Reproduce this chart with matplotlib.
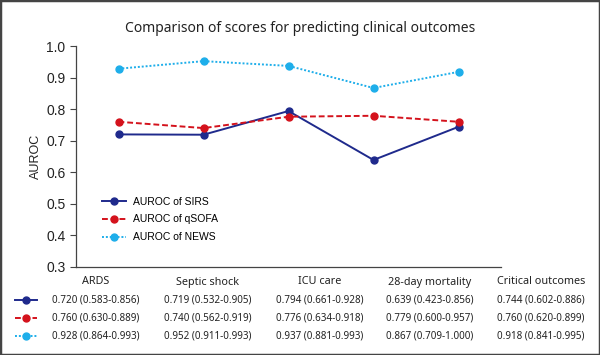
import matplotlib
matplotlib.use("Agg")
import matplotlib.pyplot as plt
from matplotlib.lines import Line2D
from matplotlib.patches import Rectangle

# outcomes and scores
outcomes = ["ARDS", "Septic shock", "ICU care", "28-day mortality", "Critical outcomes"]
sirs = [0.720, 0.719, 0.794, 0.639, 0.744]
qsofa = [0.760, 0.740, 0.776, 0.779, 0.760]
news = [0.928, 0.952, 0.937, 0.867, 0.918]
sirs_ci = ["0.583-0.856", "0.532-0.905", "0.661-0.928", "0.423-0.856", "0.602-0.886"]
qsofa_ci = ["0.630-0.889", "0.562-0.919", "0.634-0.918", "0.600-0.957", "0.620-0.899"]
news_ci = ["0.864-0.993", "0.911-0.993", "0.881-0.993", "0.709-1.000", "0.841-0.995"]

labels = ["AUROC of SIRS", "AUROC of qSOFA", "AUROC of NEWS"]
colors = ["#1f2a8c", "#d4121c", "#1eaeea"]
styles = ["-", (0, (3, 1.5)), (0, (1, 1))]

fig = plt.figure(figsize=(6, 3.55), dpi=100)
ax = fig.add_axes([76/600, 1-267/355, 425/600, 221/355])

x = range(len(outcomes))
for vals, lab, c, ls in zip([sirs, qsofa, news], labels, colors, styles):
    ax.plot(x, vals, ls=ls, color=c, lw=1.4, marker="o", ms=5, label=lab)

ax.set_xlim(-0.5, 4.5)
ax.set_ylim(0.3, 1.0)
ax.set_yticks([0.3, 0.4, 0.5, 0.6, 0.7, 0.8, 0.9, 1.0])
ax.set_yticklabels(["0.3", "0.4", "0.5", "0.6", "0.7", "0.8", "0.9", "1.0"],
                   family="Liberation Sans", fontsize=10, color="#222222")
ax.set_xticks([])
ax.tick_params(axis="y", length=4, width=0.8, color="#444444")
for s in ["top", "right"]:
    ax.spines[s].set_visible(False)
for s in ["left", "bottom"]:
    ax.spines[s].set_color("#444444")
    ax.spines[s].set_linewidth(0.9)
ax.set_ylabel("AUROC", family="Liberation Sans", fontsize=9, color="#222222", labelpad=3)

ax.legend(loc="lower left", bbox_to_anchor=(0.04, 0.07), frameon=False,
          prop={"family": "Liberation Sans", "size": 7.5}, handlelength=2.3,
          labelspacing=0.75, handletextpad=0.6)

fig.text(0.5, 1-28/355, "Comparison of scores for predicting clinical outcomes",
         ha="center", va="center", family="Noto Sans", fontsize=10, color="#222222")

# table below the chart
col_x = [96, 208, 320, 430, 541]
for cx, name in zip(col_x, outcomes):
    fig.text(cx/600, 1-282/355, name, ha="center", va="center",
             family="Noto Sans", fontsize=7.8, color="#222222")

row_y = [300, 318, 336]
for ry, vals, cis, c, ls in zip(row_y, [sirs, qsofa, news], [sirs_ci, qsofa_ci, news_ci], colors, styles):
    yf = 1 - ry/355
    fig.lines.append(Line2D([15/600, 37/600], [yf, yf], transform=fig.transFigure,
                            color=c, ls=ls, lw=1.4))
    fig.lines.append(Line2D([26/600], [yf], transform=fig.transFigure,
                            color=c, marker="o", ms=5, ls="none"))
    for cx, v, ci in zip(col_x, vals, cis):
        fig.text(cx/600, yf, "%.3f (%s)" % (v, ci), ha="center", va="center",
                 family="Noto Sans", fontsize=7.1, color="#222222")

fig.patches.append(Rectangle((0, 0), 1, 1, transform=fig.transFigure, fill=False,
                             ec="#444444", lw=2.5))

fig.savefig("out.png", dpi=100)
